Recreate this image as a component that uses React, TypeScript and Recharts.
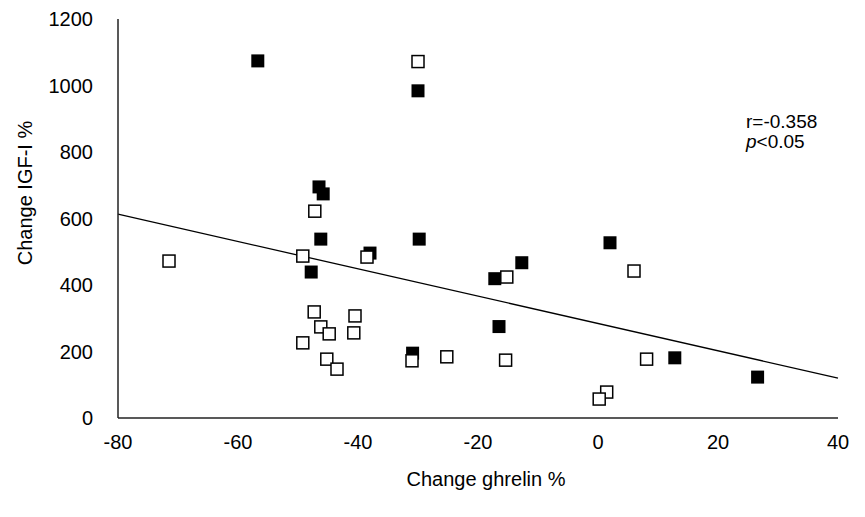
import React from 'react'
import { ScatterChart, Scatter, XAxis, YAxis, ReferenceLine } from 'recharts'

// change in ghrelin (%) vs change in IGF-I (%)
const openX = [-30, -47.2, -71.5, -49.2, -38.5, -15.2, 6, -47.3, -40.5, -46.2, -44.8, -40.7, -49.2, -45.2, -43.5, -31, -25.2, -15.4, 8.1, 1.45, 0.2]
const openY = [1072, 622, 472, 487, 484, 424, 442, 319, 307, 274, 253, 256, 226, 177, 147, 172, 184, 174, 177, 78, 57]

const filledX = [-56.7, -30, -46.5, -45.8, -46.2, -29.8, -38, -47.8, 2, -12.7, -17.2, -16.5, -30.9, 12.8, 26.6]
const filledY = [1074, 984, 695, 674, 538, 538, 496, 439, 527, 467, 419, 275, 195, 181, 123]

// regression line end points
const fitX = [-80, 40]
const fitY = [613, 120]

const xTicks = [-80, -60, -40, -20, 0, 20, 40]
const yTicks = [0, 200, 400, 600, 800, 1000, 1200]

const FONT = '"Liberation Sans", Arial, sans-serif'

const openData = openX.map((x, i) => ({ x, y: openY[i] }))
const filledData = filledX.map((x, i) => ({ x, y: filledY[i] }))

const FilledSquare = (props: any) => {
  const { cx, cy } = props
  return <rect x={cx - 6.5} y={cy - 6.5} width={13} height={13} fill="#000" />
}

const OpenSquare = (props: any) => {
  const { cx, cy } = props
  return <rect x={cx - 6} y={cy - 6} width={12} height={12} fill="#fff" stroke="#000" strokeWidth={1.5} />
}

export default function App() {
  return (
    <div style={{ position: 'absolute', left: 0, top: 0, width: 865, height: 517, background: '#fff', fontFamily: FONT }}>
      <ScatterChart width={865} height={517} margin={{ top: 19, right: 27, bottom: 0, left: 0 }}>
        <XAxis
          type="number"
          dataKey="x"
          domain={[-80, 40]}
          ticks={xTicks}
          tickLine={false}
          tickSize={0}
          tickMargin={17}
          height={99}
          axisLine={{ stroke: '#222', strokeWidth: 1.5 }}
          tick={{ fill: '#000', fontSize: 20, fontFamily: FONT }}
          label={{
            content: () => (
              <text x={486} y={479} textAnchor="middle" dominantBaseline="central" fontSize={20} fontFamily={FONT} fill="#000">
                Change ghrelin %
              </text>
            ),
          }}
        />
        <YAxis
          type="number"
          dataKey="y"
          domain={[0, 1200]}
          ticks={yTicks}
          tickLine={false}
          tickSize={0}
          tickMargin={25}
          width={118}
          axisLine={{ stroke: '#222', strokeWidth: 1.5 }}
          tick={{ fill: '#000', fontSize: 20, fontFamily: FONT }}
          label={{
            content: () => (
              <text x={25} y={193} transform="rotate(-90, 25, 193)" textAnchor="middle" dominantBaseline="central" fontSize={20} fontFamily={FONT} fill="#000">
                Change IGF-I %
              </text>
            ),
          }}
        />
        <ReferenceLine
          segment={[{ x: fitX[0], y: fitY[0] }, { x: fitX[1], y: fitY[1] }]}
          stroke="#000"
          strokeWidth={1.3}
        />
        <Scatter data={filledData} shape={FilledSquare} isAnimationActive={false} />
        <Scatter data={openData} shape={OpenSquare} isAnimationActive={false} />
      </ScatterChart>
      <div style={{ position: 'absolute', left: 746, top: 112, fontSize: 19, lineHeight: '20px', color: '#000' }}>
        <div>r=-0.358</div>
        <div>
          <i>p</i>&lt;0.05
        </div>
      </div>
    </div>
  )
}
